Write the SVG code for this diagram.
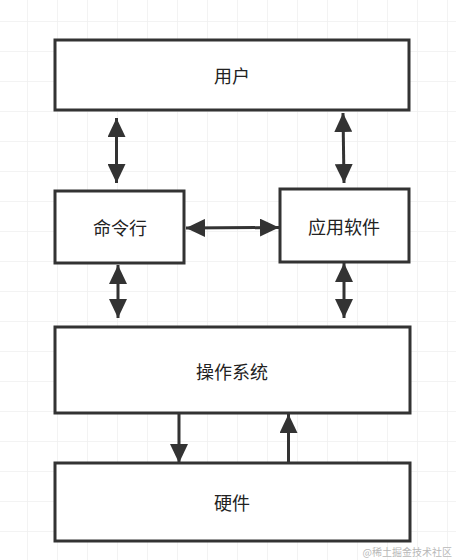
<svg xmlns="http://www.w3.org/2000/svg" width="456" height="560" viewBox="0 0 456 560">
<style>
.box{fill:#ffffff;stroke:#333333;stroke-width:3}
.lbl{font-family:"Noto Sans CJK SC","Noto Sans",sans-serif;font-size:18px;fill:#222222;text-anchor:middle;dominant-baseline:central}
.con{stroke:#333333;stroke-width:3;fill:none}
.wm{font-family:"Noto Sans CJK SC","Noto Sans",sans-serif;font-size:10px;fill:#b8b8b8;text-anchor:end}
</style>
<defs>
<pattern id="grid" x="27" y="21" width="30" height="30" patternUnits="userSpaceOnUse">
<path d="M0 0H30M0 0V30" stroke="#efefef" stroke-width="1.5" fill="none"/>
</pattern>
<marker id="ah" viewBox="0 0 19 18" refX="19" refY="9" markerWidth="19" markerHeight="18" markerUnits="userSpaceOnUse" orient="auto-start-reverse">
<path d="M0 0L19 9L0 18Z" fill="#333333"/>
</marker>
</defs>
<rect width="456" height="560" fill="#ffffff"/>
<rect width="456" height="560" fill="url(#grid)"/>
<g id="connectors">
<line class="con" x1="116.5" y1="118" x2="116.5" y2="183" marker-start="url(#ah)" marker-end="url(#ah)"/>
<line class="con" x1="343" y1="113" x2="344" y2="183" marker-start="url(#ah)" marker-end="url(#ah)"/>
<line class="con" x1="186" y1="228" x2="279" y2="227.5" marker-start="url(#ah)" marker-end="url(#ah)"/>
<line class="con" x1="118" y1="265" x2="118" y2="318" marker-start="url(#ah)" marker-end="url(#ah)"/>
<line class="con" x1="344" y1="263" x2="344" y2="318" marker-start="url(#ah)" marker-end="url(#ah)"/>
<line class="con" x1="179" y1="413" x2="179" y2="463" marker-end="url(#ah)"/>
<line class="con" x1="288.5" y1="463" x2="288.5" y2="414" marker-end="url(#ah)"/>
</g>
<g id="user">
<rect class="box" x="55" y="40" width="354" height="70"/>
<text class="lbl" x="232" y="75">用户</text>
</g>
<g id="cli">
<rect class="box" x="55" y="191" width="129" height="72"/>
<text class="lbl" x="120" y="227">命令行</text>
</g>
<g id="apps">
<rect class="box" x="280" y="189" width="129" height="73"/>
<text class="lbl" x="344" y="226">应用软件</text>
</g>
<g id="os">
<rect class="box" x="55" y="327" width="355" height="86"/>
<text class="lbl" x="232" y="371">操作系统</text>
</g>
<g id="hardware">
<rect class="box" x="55" y="463" width="355" height="78"/>
<text class="lbl" x="232" y="502">硬件</text>
</g>
<text class="wm" x="452" y="556">@稀土掘金技术社区</text>
</svg>
